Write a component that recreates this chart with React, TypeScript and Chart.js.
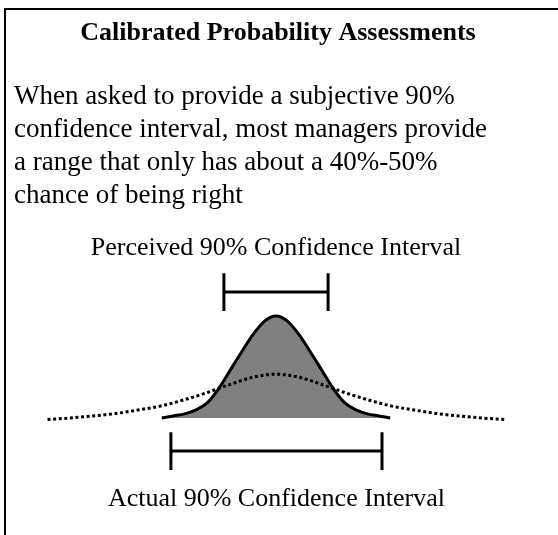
import React, { useEffect, useRef } from "react";
import { Chart, registerables } from "chart.js";

Chart.register(...registerables);

// ---- data ----
const titleText = "Calibrated Probability Assessments";
const paragraphLines = [
  "When asked to provide a subjective 90%",
  "confidence interval, most managers provide",
  "a range that only has about a 40%-50%",
  "chance of being right",
];
const perceivedLabel = "Perceived 90% Confidence Interval";
const actualLabel = "Actual 90% Confidence Interval";

// narrow (perceived) distribution – solid, filled
const perceivedX = [-2.5, -2.25, -2.0, -1.75, -1.5, -1.25, -1.0, -0.75, -0.5, -0.25, 0, 0.25, 0.5, 0.75, 1.0, 1.25, 1.5, 1.75, 2.0, 2.25, 2.5];
const perceivedDensity = [0.0, 0.02, 0.04, 0.08, 0.15, 0.29, 0.47, 0.65, 0.82, 0.95, 1.0, 0.95, 0.82, 0.65, 0.47, 0.29, 0.15, 0.08, 0.04, 0.02, 0.0];

// wide (actual) distribution – dotted
const actualX = [-5, -4.5, -4, -3.5, -3, -2.5, -2, -1.5, -1, -0.5, 0, 0.5, 1, 1.5, 2, 2.5, 3, 3.5, 4, 4.5, 5];
const actualDensity = [-0.015, 0.0, 0.02, 0.045, 0.08, 0.12, 0.18, 0.25, 0.33, 0.4, 0.43, 0.4, 0.33, 0.25, 0.18, 0.12, 0.08, 0.045, 0.02, 0.0, -0.015];

// interval bars: [low, high], level, cap half-height
const perceivedInterval = [-1.14, 1.14];
const perceivedLevel = 1.235;
const actualInterval = [-2.3, 2.32];
const actualLevel = -0.324;
const capHalf = 0.185;

function intervalPoints(iv: number[], level: number) {
  const [lo, hi] = iv;
  return [
    { x: lo, y: level - capHalf },
    { x: lo, y: level + capHalf },
    { x: lo, y: null },
    { x: lo, y: level },
    { x: hi, y: level },
    { x: hi, y: null },
    { x: hi, y: level - capHalf },
    { x: hi, y: level + capHalf },
  ];
}

const textPlugin = {
  id: "textPlugin",
  afterDraw(chart: any) {
    const ctx = chart.ctx;
    const xs = chart.scales.x;
    const ys = chart.scales.y;
    ctx.save();
    // frame
    ctx.strokeStyle = "#000";
    ctx.lineWidth = 2;
    ctx.strokeRect(5, 9, 700, 700);
    ctx.fillStyle = "#000";
    ctx.textBaseline = "alphabetic";
    ctx.textAlign = "center";
    ctx.font = 'bold 26px "Liberation Serif", "Times New Roman", serif';
    ctx.fillText(titleText, 278, 40);
    ctx.textAlign = "left";
    ctx.font = '27px "Liberation Serif", "Times New Roman", serif';
    paragraphLines.forEach((line, i) => {
      ctx.fillText(line, 14, 104 + i * 33);
    });
    ctx.textAlign = "center";
    ctx.font = '26px "Liberation Serif", "Times New Roman", serif';
    const cx = xs.getPixelForValue((perceivedInterval[0] + perceivedInterval[1]) / 2);
    ctx.fillText(perceivedLabel, cx, ys.getPixelForValue(perceivedLevel + capHalf) - 18);
    const cx2 = xs.getPixelForValue((actualInterval[0] + actualInterval[1]) / 2);
    ctx.fillText(actualLabel, cx2, ys.getPixelForValue(actualLevel - capHalf) + 36);
    ctx.restore();
  },
};

export default function App() {
  const ref = useRef<HTMLCanvasElement | null>(null);
  useEffect(() => {
    if (!ref.current) return;
    const chart = new Chart(ref.current, {
      type: "line",
      data: {
        datasets: [
          {
            data: actualX.map((x, i) => ({ x, y: actualDensity[i] })),
            borderColor: "#000",
            borderWidth: 3,
            borderDash: [3, 2.6],
            borderCapStyle: "butt",
            fill: false,
            cubicInterpolationMode: "monotone",
            pointRadius: 0,
            clip: false,
          },
          {
            data: perceivedX.map((x, i) => ({ x, y: perceivedDensity[i] })),
            borderColor: "#000",
            borderWidth: 3,
            backgroundColor: "#808080",
            fill: "origin",
            cubicInterpolationMode: "monotone",
            pointRadius: 0,
            clip: false,
          },
          {
            data: intervalPoints(perceivedInterval, perceivedLevel),
            borderColor: "#000",
            borderWidth: 3,
            fill: false,
            tension: 0,
            pointRadius: 0,
            spanGaps: false,
            clip: false,
          },
          {
            data: intervalPoints(actualInterval, actualLevel),
            borderColor: "#000",
            borderWidth: 3,
            fill: false,
            tension: 0,
            pointRadius: 0,
            spanGaps: false,
            clip: false,
          },
        ] as any,
      },
      options: {
        animation: false,
        responsive: false,
        maintainAspectRatio: false,
        layout: { padding: { left: 38.4, right: 44.4, top: 254.8, bottom: 55.8 } },
        scales: {
          x: { type: "linear", min: -5.2, max: 5.2, display: false },
          y: { type: "linear", min: -0.6, max: 1.6, display: false },
        },
        plugins: { legend: { display: false }, tooltip: { enabled: false }, title: { display: false } },
        elements: { point: { radius: 0 } },
      },
      plugins: [textPlugin],
    });
    return () => chart.destroy();
  }, []);
  return (
    <div style={{ position: "absolute", left: 0, top: 0, width: 558, height: 535, background: "#fff" }}>
      <canvas ref={ref} width={558} height={535} style={{ display: "block" }} />
    </div>
  );
}
